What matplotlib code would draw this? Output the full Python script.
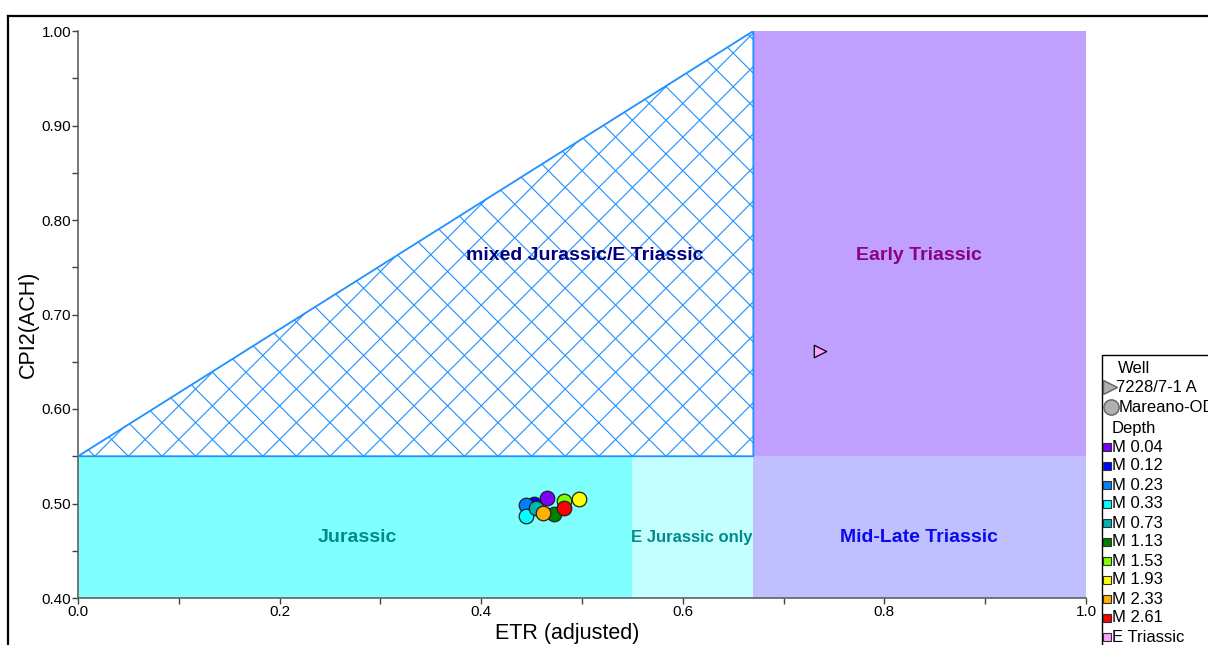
import matplotlib
matplotlib.use("Agg")
import matplotlib.pyplot as plt
import numpy as np
from matplotlib.patches import Polygon, Rectangle
from matplotlib.lines import Line2D

plt.rcParams['font.family'] = ['Liberation Sans', 'DejaVu Sans']

# ---------------- data ----------------
depth_labels = ['M 0.04', 'M 0.12', 'M 0.23', 'M 0.33', 'M 0.73',
                'M 1.13', 'M 1.53', 'M 1.93', 'M 2.33', 'M 2.61']
depth_colors = ['#8000FF', '#0000FF', '#0080FF', '#00FFFF', '#00B4B4',
                '#008000', '#80FF00', '#FFFF00', '#FFB000', '#FF0000']
etr_mareano = [0.465, 0.452, 0.444, 0.444, 0.454, 0.4725, 0.482, 0.497, 0.461, 0.482]
cpi_mareano = [0.5055, 0.500, 0.498, 0.487, 0.4955, 0.4886, 0.503, 0.5048, 0.4896, 0.4955]

triassic_label = 'E Triassic'
triassic_color = '#FFA0FF'
etr_well = [0.736]
cpi_well = [0.661]

well_names = ['7228/7-1 A', 'Mareano-OD']

# field boundaries (ETR, CPI2)
etr_split1 = 0.55
etr_split2 = 0.67
cpi_split = 0.55
x_min, x_max = 0.0, 1.0
y_min, y_max = 0.40, 1.00

field_names = ['Jurassic', 'E Jurassic only', 'Mid-Late Triassic',
               'Early Triassic', 'mixed Jurassic/E Triassic']
field_label_pos = [(0.277, 0.464), (0.609, 0.464), (0.834, 0.464),
                   (0.834, 0.762), (0.503, 0.762)]
field_label_colors = ['#008B8B', '#008B8B', '#0A0AEE', '#8B008B', '#000080']
field_label_sizes = [14, 12, 14, 14, 14]

# ---------------- figure ----------------
W, H = 1208, 645
fig = plt.figure(figsize=(W / 100, H / 100), dpi=100)
L, R, B, T = 78, 1086, 598, 31
ax = fig.add_axes([L / W, 1 - B / H, (R - L) / W, (B - T) / H])
ax.set_xlim(x_min, x_max)
ax.set_ylim(y_min, y_max)

# regions
ax.add_patch(Rectangle((x_min, y_min), etr_split1 - x_min, cpi_split - y_min,
                       facecolor='#80FFFF', edgecolor='none', zorder=1))
ax.add_patch(Rectangle((etr_split1, y_min), etr_split2 - etr_split1, cpi_split - y_min,
                       facecolor='#C4FFFF', edgecolor='none', zorder=1))
ax.add_patch(Rectangle((etr_split2, y_min), x_max - etr_split2, cpi_split - y_min,
                       facecolor='#C0C0FF', edgecolor='none', zorder=1))
ax.add_patch(Rectangle((etr_split2, cpi_split), x_max - etr_split2, y_max - cpi_split,
                       facecolor='#C0A0FF', edgecolor='none', zorder=1))

tri = Polygon([(x_min, cpi_split), (etr_split2, y_max), (etr_split2, cpi_split)],
              closed=True, facecolor='white', edgecolor='none', zorder=1)
ax.add_patch(tri)

# cross-hatch lines at 45 degrees in pixel space
sx, sy = (R - L), (B - T) / (y_max - y_min)
P = 33.6
c1 = 729.75
c2 = 446.25
Xs = np.array([-2000.0, 3000.0])
for k in range(-60, 60):
    s = c1 + k * P
    ln, = ax.plot(Xs / sx, y_min + (s - Xs) / sy, color='#1E90FF', lw=0.8, zorder=2)
    ln.set_clip_path(tri)
    s2 = c2 + k * P
    ln2, = ax.plot(Xs / sx, y_min + (Xs - s2) / sy, color='#1E90FF', lw=0.8, zorder=2)
    ln2.set_clip_path(tri)
ax.plot([x_min, etr_split2, etr_split2, x_min],
        [cpi_split, y_max, cpi_split, cpi_split], color='#1E90FF', lw=1.3, zorder=3)

for name, (lx, ly), c, fsz in zip(field_names, field_label_pos, field_label_colors,
                                  field_label_sizes):
    ax.text(lx, ly, name, color=c, fontsize=fsz, fontweight='bold',
            ha='center', va='center', zorder=4)

# points
for x, y, c in zip(etr_mareano, cpi_mareano, depth_colors):
    ax.scatter([x], [y], s=110, c=c, edgecolors='#202020', linewidths=0.9, zorder=5)
ax.scatter(etr_well, cpi_well, marker='>', s=80, c=triassic_color,
           edgecolors='black', linewidths=0.9, zorder=5)

# axes styling
for sp in ['top', 'right']:
    ax.spines[sp].set_visible(False)
for sp in ['left', 'bottom']:
    ax.spines[sp].set_color('#606060')
    ax.spines[sp].set_linewidth(1.2)
ax.set_xticks(np.arange(0, 1.01, 0.2))
ax.set_xticks(np.arange(0, 1.01, 0.1), minor=True)
ax.set_yticks(np.arange(0.4, 1.001, 0.1))
ax.set_yticks(np.arange(0.4, 1.001, 0.05), minor=True)
ax.set_xticklabels([f'{v:.1f}' for v in np.arange(0, 1.01, 0.2)])
ax.set_yticklabels([f'{v:.2f}' for v in np.arange(0.4, 1.001, 0.1)])
ax.tick_params(which='both', direction='out', color='#404040', width=1, labelsize=11, pad=1)
ax.tick_params(which='major', length=4)
ax.tick_params(which='minor', length=4)
ax.set_xlabel('ETR (adjusted)', fontsize=15.5, va='center')
ax.set_ylabel('CPI2(ACH)', fontsize=15.5, va='center')
ax.xaxis.set_label_coords((567 - L) / (R - L), (B - 634) / (B - T))
ax.yaxis.set_label_coords((28 - L) / (R - L), (B - 324) / (B - T))

# outer frame
def fx(px):
    return px / W
def fy(py):
    return 1 - py / H
fig.add_artist(Line2D([fx(8), fx(8)], [fy(16), fy(700)], color='black', lw=1.6,
                      transform=fig.transFigure))
fig.add_artist(Line2D([fx(8), fx(1300)], [fy(16), fy(16)], color='black', lw=1.6,
                      transform=fig.transFigure))

# legend (manual, clipped by figure edge as in the original)
fig.add_artist(Rectangle((fx(1102), fy(700)), fx(1400) - fx(1102), fy(355) - fy(700),
                         transform=fig.transFigure, facecolor='white',
                         edgecolor='black', lw=1.0, zorder=10))
fs = 12
fig.text(fx(1118), fy(369), 'Well', fontsize=fs, va='center', ha='left', zorder=11)
fig.add_artist(Line2D([fx(1110)], [fy(387)], marker='>', markersize=10,
                      markerfacecolor='#B0B0B0', markeredgecolor='#606060',
                      transform=fig.transFigure, zorder=11))
fig.text(fx(1116), fy(387), well_names[0], fontsize=fs, va='center', ha='left', zorder=11)
fig.add_artist(Line2D([fx(1111)], [fy(407)], marker='o', markersize=11,
                      markerfacecolor='#B0B0B0', markeredgecolor='#606060',
                      transform=fig.transFigure, zorder=11))
fig.text(fx(1119), fy(407), well_names[1], fontsize=fs, va='center', ha='left', zorder=11)
fig.text(fx(1112), fy(428), 'Depth', fontsize=fs, va='center', ha='left', zorder=11)
entries = list(zip(depth_labels, depth_colors)) + [(triassic_label, triassic_color)]
for i, (lab, c) in enumerate(entries):
    yy = 447 + i * 19.0
    fig.add_artist(Line2D([fx(1107)], [fy(yy)], marker='s', markersize=5.5,
                          markerfacecolor=c, markeredgecolor='#303030', markeredgewidth=0.8,
                          transform=fig.transFigure, zorder=11))
    fig.text(fx(1112), fy(yy), lab, fontsize=fs, va='center', ha='left', zorder=11)

fig.savefig('out.png', dpi=100)
